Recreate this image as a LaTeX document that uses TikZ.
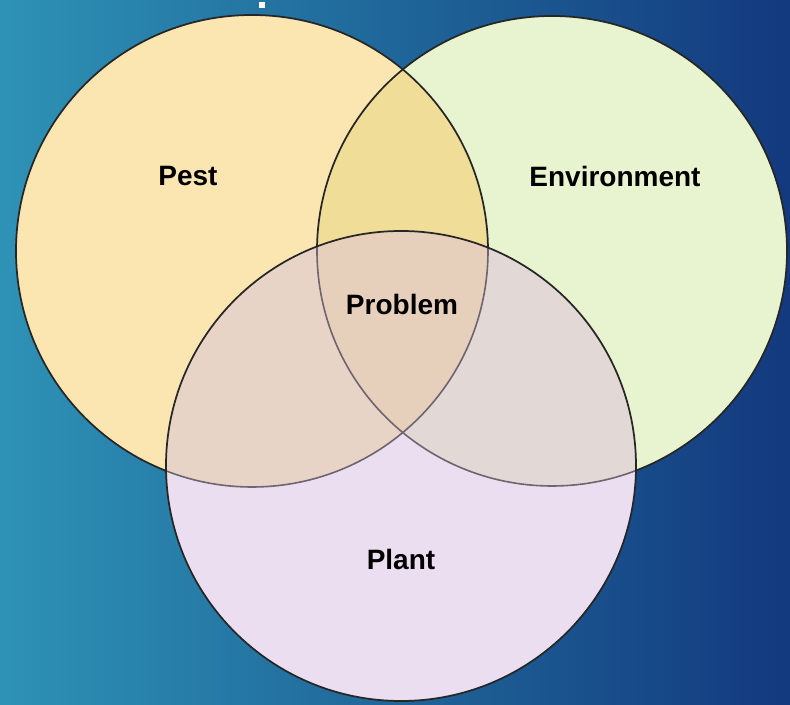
\documentclass[tikz,border=0pt]{standalone}
\usepackage{fontspec}
\setmainfont{Liberation Sans}
\definecolor{bgL}{HTML}{2E92B6}
\definecolor{bgM}{HTML}{1F6699}
\definecolor{bgR}{HTML}{13397E}
\definecolor{pestc}{HTML}{FBE6B2}
\definecolor{envc}{HTML}{E8F4CF}
\definecolor{plantc}{HTML}{EBDEF0}
\definecolor{pec}{HTML}{F0DE98}
\definecolor{ppc}{HTML}{E8D4C6}
\definecolor{epc}{HTML}{E2D8D6}
\definecolor{cenc}{HTML}{E6D0BC}
\definecolor{edgec}{HTML}{262626}
\definecolor{inedge}{HTML}{6E6470}
\tikzset{
  lbl/.style={font=\bfseries\fontsize{21}{24}\selectfont, anchor=base, text=black, inner sep=0pt},
  ring/.style={draw=edgec, line width=1.3pt},
}
\begin{document}
\begin{tikzpicture}[x=0.75pt,y=-0.75pt]
\useasboundingbox (0,0) rectangle (790,705);
\shade[left color=bgL, right color=bgR, middle color=bgM] (0,0) rectangle (790,705);
\fill[white] (259,2) rectangle (265,8);
% base fills
\fill[pestc] (252,251) circle (236);
\fill[envc] (552,251) circle (235);
\fill[plantc] (401,466) circle (235);
% pairwise
\begin{scope}
  \clip (252,251) circle (236);
  \fill[pec] (552,251) circle (235);
  \fill[ppc] (401,466) circle (235);
\end{scope}
\begin{scope}
  \clip (552,251) circle (235);
  \fill[epc] (401,466) circle (235);
\end{scope}
\begin{scope}
  \clip (252,251) circle (236);
  \clip (552,251) circle (235);
  \fill[cenc] (401,466) circle (235);
\end{scope}
% outlines: parts of Pest and Env inside Plant lighter
\begin{scope}
  \clip (401,466) circle (235);
  \draw[draw=inedge, line width=1.2pt] (252,251) circle (236);
  \draw[draw=inedge, line width=1.2pt] (552,251) circle (235);
\end{scope}
\begin{scope}[even odd rule]
  \clip (0,0) rectangle (790,705) (401,466) circle (235);
  \draw[ring] (252,251) circle (236);
  \draw[ring] (552,251) circle (235);
\end{scope}
\draw[ring] (401,466) circle (235);
% labels
\node[lbl] (pest) at (188,186) {Pest};
\node[lbl] (env) at (615,187) {Environment};
\node[lbl] (prob) at (402,315) {Problem};
\node[lbl] (plant) at (401,570) {Plant};
\end{tikzpicture}
\end{document}
